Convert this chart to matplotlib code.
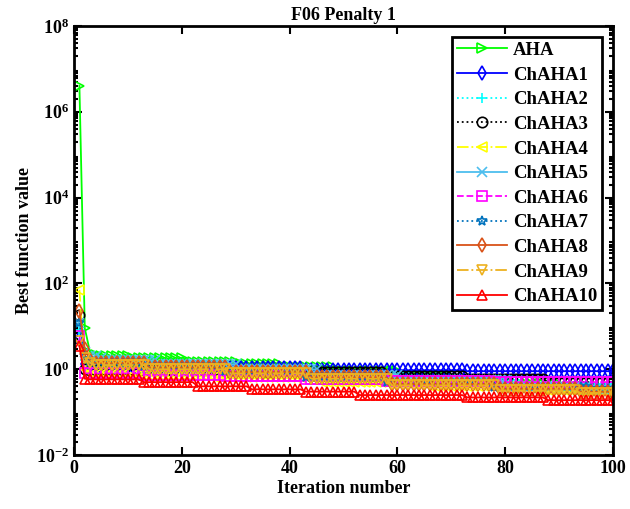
import numpy as np
import matplotlib
matplotlib.use("Agg")
import matplotlib.pyplot as plt
from matplotlib.ticker import LogLocator, NullFormatter

# best-so-far values per iteration (1..100), stored as runs of repeated values
names = ["AHA", "ChAHA1", "ChAHA2", "ChAHA3", "ChAHA4", "ChAHA5",
         "ChAHA6", "ChAHA7", "ChAHA8", "ChAHA9", "ChAHA10"]

aha = ([4.0e6, 9.0, 2.4, 2.2] + [2.0] * 6 + [1.8] * 10 + [1.5] * 10 + [1.3] * 8
       + [1.1] * 10 + [0.9] * 12 + [0.7] * 10 + [0.55] * 10 + [0.45] * 10
       + [0.35] * 9 + [0.28])
chaha1 = [5.0, 1.3] + [1.15] * 10 + [1.05] * 30 + [0.95] * 30 + [0.9] * 28
chaha2 = ([8.0, 1.6] + [1.3] * 10 + [1.1] * 15 + [0.9] * 15 + [0.7] * 20
          + [0.55] * 20 + [0.45] * 18)
chaha3 = ([18.0, 1.0] + [0.95] * 25 + [0.85] * 30 + [0.7] * 15 + [0.6] * 15
          + [0.5] * 13)
chaha4 = ([70.0, 1.0] + [0.85] * 8 + [0.75] * 15 + [0.65] * 20 + [0.5] * 20
          + [0.4] * 20 + [0.32] * 15)
chaha5 = ([12.0, 2.5, 2.0, 2.0, 1.8] + [1.6] * 10 + [1.3] * 15 + [1.0] * 15
          + [0.75] * 15 + [0.55] * 20 + [0.4] * 15 + [0.35] * 5)
chaha6 = ([6.0, 0.8] + [0.8] * 10 + [0.75] * 15 + [0.7] * 15 + [0.6] * 15
          + [0.52] * 20 + [0.5] * 23)
chaha7 = ([12.0, 2.0] + [1.5] * 10 + [1.2] * 15 + [0.9] * 15 + [0.65] * 15
          + [0.5] * 20 + [0.38] * 18 + [0.35] * 5)
chaha8 = ([23.0, 3.0, 1.6] + [1.4] * 10 + [1.1] * 15 + [0.85] * 15 + [0.65] * 15
          + [0.45] * 20 + [0.35] * 15 + [0.3] * 7)
chaha9 = ([4.5, 1.8, 1.4] + [1.25] * 10 + [1.0] * 15 + [0.8] * 15 + [0.6] * 15
          + [0.42] * 20 + [0.32] * 15 + [0.28] * 7)
chaha10 = ([3.5, 0.6] + [0.58] * 10 + [0.5] * 10 + [0.4] * 10 + [0.34] * 10
           + [0.3] * 10 + [0.25] * 20 + [0.22] * 15 + [0.19] * 13)

series = [aha, chaha1, chaha2, chaha3, chaha4, chaha5,
          chaha6, chaha7, chaha8, chaha9, chaha10]
iters = np.arange(1, 101)

colors = ["#00FF00", "#0000FF", "#00FFFF", "#000000", "#FFFF00", "#4DBEEE",
          "#FF00FF", "#0072BD", "#D95319", "#EDB120", "#FF0000"]
styles = ["-", "-", ":", ":", "-.", "-", "--", ":", "-", "-.", "-"]
markers = [">", "d", "+", "o", "<", "x", "s", "*", "d", "v", "^"]

plt.rcParams["font.family"] = ["Liberation Serif", "DejaVu Serif"]
plt.rcParams["font.weight"] = "bold"
plt.rcParams["mathtext.fontset"] = "custom"
plt.rcParams["mathtext.rm"] = "Liberation Serif:bold"
plt.rcParams["mathtext.it"] = "Liberation Serif:bold"
plt.rcParams["mathtext.bf"] = "Liberation Serif:bold"
plt.rcParams["axes.unicode_minus"] = False

fig = plt.figure(figsize=(6.3, 5.09), dpi=100, facecolor="white")
ax = fig.add_axes([0.1175, 0.106, 0.8555, 0.843])

for name, vals, c, ls, m in zip(names, series, colors, styles, markers):
    ax.semilogy(iters, vals, color=c, linestyle=ls, marker=m, markersize=7.5,
                markerfacecolor="none", markeredgecolor=c, markeredgewidth=1.2,
                linewidth=1.3, label=name)

ax.set_xlim(0, 100)
ax.set_ylim(1e-2, 1e8)
ax.set_xticks([0, 20, 40, 60, 80, 100])
ax.set_yticks([1e-2, 1e0, 1e2, 1e4, 1e6, 1e8])
ax.yaxis.set_minor_locator(LogLocator(base=10, subs=np.arange(2, 10) * 1.0, numticks=50))
ax.yaxis.set_minor_formatter(NullFormatter())
ax.tick_params(which="both", direction="in", top=True, right=True, width=1.5)
ax.tick_params(which="major", length=6, labelsize=13)
ax.tick_params(which="minor", length=3)
for sp in ax.spines.values():
    sp.set_linewidth(2)

ax.set_xlabel("Iteration number", fontsize=13, fontweight="bold", labelpad=2)
ax.set_ylabel("Best function value", fontsize=13, fontweight="bold", labelpad=2)
ax.set_title("F06 Penalty 1", fontsize=13, fontweight="bold", pad=4)

leg = ax.legend(loc="upper right", fontsize=13.5, frameon=True, fancybox=False,
                edgecolor="black", handlelength=2.7, borderpad=0.25,
                labelspacing=0.4, handletextpad=0.3, borderaxespad=0.6,
                framealpha=1)
leg.get_frame().set_linewidth(2)

fig.savefig("out.png", dpi=100)
